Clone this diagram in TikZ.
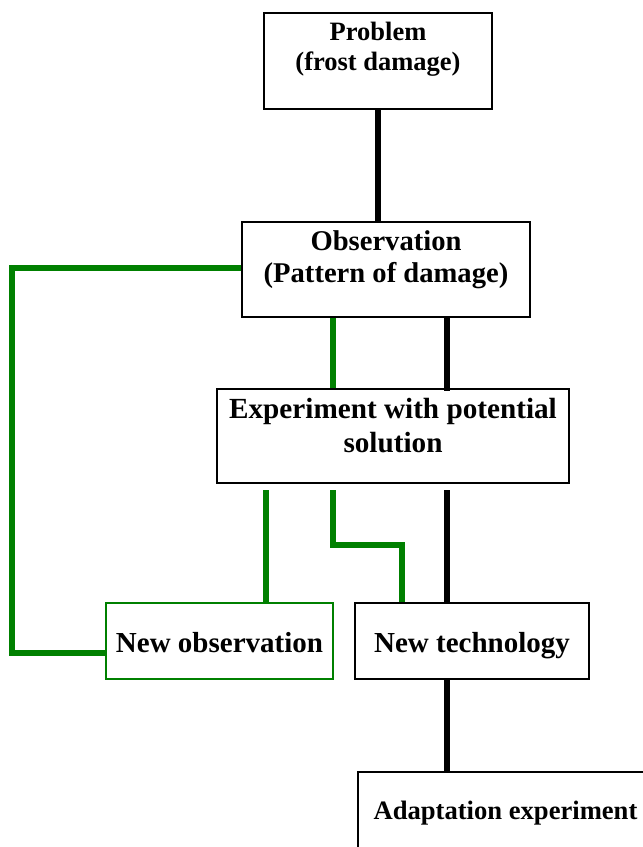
\documentclass[tikz,border=0pt]{standalone}
\usepackage{fontspec}
\setmainfont{Liberation Serif}
\definecolor{darkgreen}{RGB}{0,128,0}

\begin{document}
\begin{tikzpicture}[line cap=butt,line join=miter,x=1pt,y=-1pt,
	box/.style={draw=black,line width=2.7pt,inner sep=0pt,align=center,anchor=base},
	gbox/.style={box,draw=darkgreen,line width=2pt},
	blk/.style={line width=5.2pt,black},
	grn/.style={line width=5.3pt,darkgreen}]
		\useasboundingbox (0,0) rectangle (643,847);
		\clip (0,0) rectangle (643,847);
		%%%%%%%%%%%%%%%%%%%%% B O X E S %%%%%%%%%%%%%%%%%%%%%
		\node[box,minimum width=228,text height=57,text depth=39,
			font=\bfseries\fontsize{26.5}{30}\selectfont] (prob) at (378,70) {Problem\\(frost damage)};
		\node[box,minimum width=288,text height=60,text depth=35,
			font=\bfseries\fontsize{28.6}{32}\selectfont] (obs) at (386,282) {Observation\\(Pattern of damage)};
		\node[box,minimum width=352,text height=63,text depth=31,
			font=\bfseries\fontsize{29.2}{34}\selectfont] (exp) at (393,452) {Experiment with potential\\solution};
		%%%% RESULTS
		\node[gbox,minimum width=227,text height=49,text depth=27,
			font=\bfseries\fontsize{29}{34}\selectfont] (newobs) at (219.5,652) {New observation};
		\node[box,minimum width=234,text height=49,text depth=27,
			font=\bfseries\fontsize{29}{34}\selectfont] (newtech) at (472,652) {New technology};
		\node[box,minimum width=295,text height=47,text depth=47,
			font=\bfseries\fontsize{26.6}{30}\selectfont] (adapt) at (505.5,819) {Adaptation experiment};

		%%%% COLUMNS OF THE LINES
		\coordinate (gA) at (333,0);
		\coordinate (gB) at (266,0);
		\coordinate (gC) at (402,545);
		\coordinate (bk) at (447,0);
		\coordinate (loopTop) at (12,268);
		\coordinate (loopBot) at (12,653);

		%%%% BLACK LINES
		\draw[blk] (prob.south) -- (prob.south |- obs.north);
		\draw[blk] (bk |- obs.south) -- ([yshift=-3pt]bk |- exp.north);
		\draw[blk] ([yshift=-6pt]bk |- exp.south) -- (bk |- newtech.north);
		\draw[blk] (bk |- newtech.south) -- (bk |- adapt.north);

		%%%% GREEN LINES
		\draw[grn] (obs.west |- loopTop) -- (loopTop) -- (loopBot) -- (loopBot -| newobs.west);
		\draw[grn] (gA |- obs.south) -- (gA |- exp.north);
		\draw[grn] ([yshift=-6pt]gB |- exp.south) -- (gB |- newobs.north);
		\draw[grn] ([yshift=-6pt]gA |- exp.south) -- (gA |- gC) -- (gC) -- (gC |- newtech.north);
	\end{tikzpicture}
\end{document}
